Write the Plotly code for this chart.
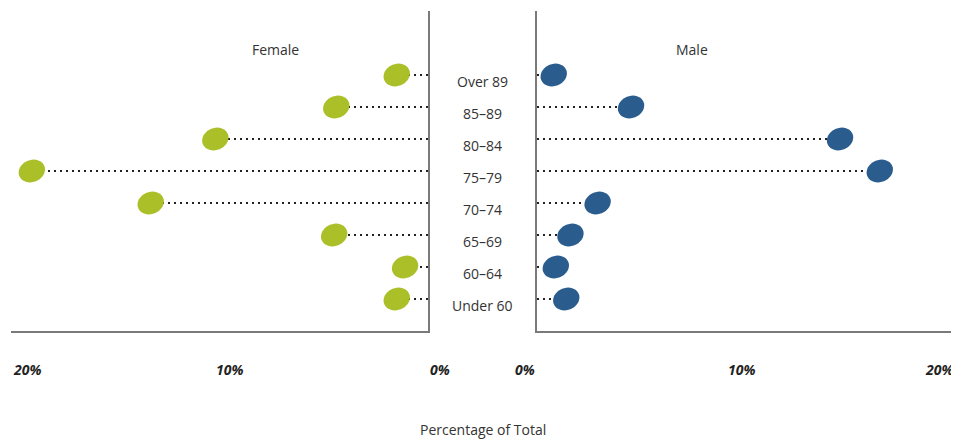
import numpy as np
import plotly.graph_objects as go

# ---- data ----
categories = ["Under 60", "60–64", "65–69", "70–74", "75–79", "80–84", "85–89", "Over 89"]
female = [1.5, 1.1, 4.5, 13.3, 19.0, 10.2, 4.4, 1.5]
male = [1.4, 0.9, 1.6, 2.9, 16.4, 14.5, 4.5, 0.8]
tick_vals = [0, 10, 20]
tick_text = ["0%", "10%", "20%"]

GREEN = "#ABBF28"
BLUE = "#2B5C8E"
TXT = "#333333"
AXC = "#7a7a7a"
FONT = "Open Sans"

OFF = 8  # page body margin
W, H = 959 - OFF, 441 - OFF
def px(xv):
    return xv - OFF

fx0, fx1 = px(11), px(428)
mx0, mx1 = px(537), px(955)
ytop, ybot = px(11), px(331)
ypos = list(range(len(categories)))
yrange = [-1, 9]

fig = go.Figure()

# dotted leader lines
def leaders(vals, xa):
    xs, ys = [], []
    for v, y in zip(vals, ypos):
        xs += [0, v, None]
        ys += [y, y, None]
    return go.Scatter(x=xs, y=ys, xaxis=xa, yaxis="y" if xa == "x" else "y2",
                      mode="lines", line=dict(color="#222222", width=2, dash="2px,4px"),
                      hoverinfo="skip", showlegend=False)

fig.add_trace(leaders(female, "x"))
fig.add_trace(leaders(male, "x2"))

# ellipse markers (rotated), sized in pixels, positioned by data
px_per_x_f = (fx1 - fx0) / 20.0
px_per_x_m = (mx1 - mx0) / 20.0
px_per_y = (ybot - ytop) / (yrange[1] - yrange[0])
a, b, phi = 13.5, 11.0, np.deg2rad(22)
t = np.linspace(0, 2 * np.pi, 40, endpoint=False)
u, v = a * np.cos(t), b * np.sin(t)
sdx = u * np.cos(phi) - v * np.sin(phi)
sdy = u * np.sin(phi) + v * np.cos(phi)

shapes = []
def ellipse(cx, cy, sign, ppx, xref, yref, color):
    xs = cx + sign * sdx / ppx
    ys = cy + sdy / px_per_y
    path = "M " + " L ".join(f"{x:.4f},{y:.4f}" for x, y in zip(xs, ys)) + " Z"
    return dict(type="path", path=path, xref=xref, yref=yref,
                fillcolor=color, line=dict(width=0), layer="above")

for val, y in zip(female, ypos):
    shapes.append(ellipse(val, y, -1, px_per_x_f, "x", "y", GREEN))
for val, y in zip(male, ypos):
    shapes.append(ellipse(val, y, 1, px_per_x_m, "x2", "y2", BLUE))

ydom = [1 - ybot / H, 1 - ytop / H]
mx_end = mx1 + 2

fig.update_layout(
    width=W, height=H, margin=dict(l=0, r=0, t=0, b=0),
    paper_bgcolor="white", plot_bgcolor="white",
    showlegend=False, shapes=shapes,
    font=dict(family=FONT, color=TXT, size=14),
    xaxis=dict(domain=[fx0 / W, fx1 / W], range=[20, 0], showgrid=False, zeroline=False,
               showticklabels=False, ticks="", showline=True, linecolor=AXC, linewidth=1.5,
               anchor="y", fixedrange=True),
    yaxis=dict(domain=ydom, range=yrange, showgrid=False, zeroline=False, showticklabels=False,
               ticks="", showline=True, linecolor=AXC, linewidth=1.5, side="right", anchor="x"),
    xaxis2=dict(domain=[mx0 / W, min(1.0, mx_end / W)], range=[0, 20 * (mx_end - mx0) / (mx1 - mx0)],
                showgrid=False, zeroline=False,
                showticklabels=False, ticks="", showline=True, linecolor=AXC, linewidth=1.5,
                anchor="y2"),
    yaxis2=dict(domain=ydom, range=yrange, showgrid=False, zeroline=False, showticklabels=False,
                ticks="", showline=True, linecolor=AXC, linewidth=1.5, side="left", anchor="x2"),
)

ann = []
# category labels in the centre
for c, y in zip(categories, ypos):
    ann.append(dict(text=c, x=px(482) / W, xref="paper", y=y, yref="y", yshift=-6,
                    showarrow=False, xanchor="center", yanchor="middle",
                    font=dict(size=14, color=TXT, family=FONT)))
# panel titles
ann.append(dict(text="Female", x=px(275) / W, y=1 - px(49) / H, xref="paper", yref="paper",
                showarrow=False, xanchor="center", yanchor="middle", font=dict(size=14, color=TXT)))
ann.append(dict(text="Male", x=px(692) / W, y=1 - px(49) / H, xref="paper", yref="paper",
                showarrow=False, xanchor="center", yanchor="middle", font=dict(size=14, color=TXT)))
# tick labels
tick_y = 1 - px(369) / H
left_anchor = {0: ("left", 0), 10: ("center", 10), 20: ("left", 0)}
right_anchor = {0: ("right", 0), 10: ("center", -5), 20: ("right", 0)}
tfont = dict(size=14, color="#222222", family=FONT, weight="bold", style="italic")
for tv, tt in zip(tick_vals, tick_text):
    xa, sh = left_anchor[tv]
    ann.append(dict(text=tt, x=tv, xref="x", y=tick_y, yref="paper", showarrow=False,
                    xanchor=xa, xshift=sh, yanchor="middle", font=tfont))
    xa, sh = right_anchor[tv]
    ann.append(dict(text=tt, x=tv, xref="x2", y=tick_y, yref="paper", showarrow=False,
                    xanchor=xa, xshift=sh, yanchor="middle", font=tfont))
# axis title
ann.append(dict(text="Percentage of Total", x=px(483) / W, y=1 - px(429) / H, xref="paper", yref="paper",
                showarrow=False, xanchor="center", yanchor="middle", font=dict(size=14, color=TXT)))
fig.update_layout(annotations=ann)

fig.write_html("out.html")
